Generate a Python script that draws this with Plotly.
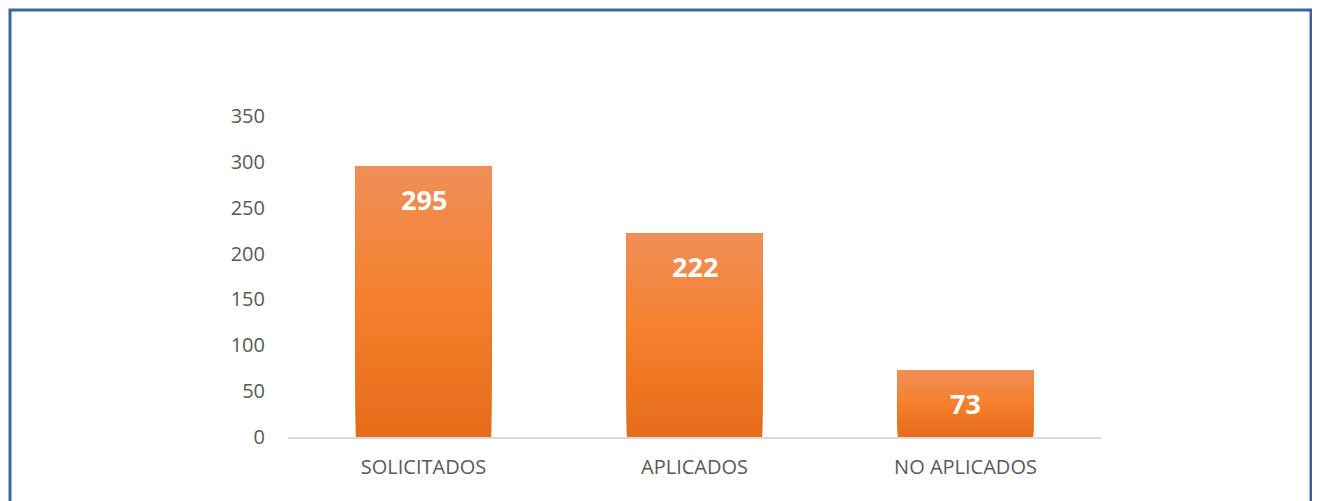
import plotly.graph_objects as go

categories = ["SOLICITADOS", "APLICADOS", "NO APLICADOS"]
values = [295, 222, 73]
y_ticks = [0, 50, 100, 150, 200, 250, 300, 350]

# gradient colours (top -> bottom)
top_rgb = (240, 142, 88)
mid_rgb = (245, 128, 44)
bot_rgb = (230, 108, 26)

def lerp(a, b, t):
    return tuple(round(a[i] + (b[i] - a[i]) * t) for i in range(3))

N = 40
fig = go.Figure()
for k in range(N):
    t = k / (N - 1)  # 0 bottom -> 1 top
    if t < 0.5:
        c = lerp(bot_rgb, mid_rgb, t / 0.5)
    else:
        c = lerp(mid_rgb, top_rgb, (t - 0.5) / 0.5)
    # each segment spans from its base up to the bar top; later ones overlay
    fig.add_trace(go.Bar(
        x=categories,
        y=[v * (N - k) / N for v in values],
        base=[v * k / N for v in values],
        marker=dict(color="rgb(%d,%d,%d)" % c, line=dict(width=0)),
        showlegend=False,
        hoverinfo="skip",
    ))

for cat, v in zip(categories, values):
    fig.add_annotation(x=cat, y=v, text="<b>%d</b>" % v, showarrow=False,
                       yanchor="middle", yshift=-33,
                       font=dict(family="Open Sans", size=27, color="white"))

# page body has an 8px margin; layout measured in page pixels minus 8
W, H = 1312, 493
L, T = 280, 108
PW, PH = 813, 321
fig.update_layout(
    width=W, height=H,
    barmode="overlay", bargap=0.5,
    paper_bgcolor="white", plot_bgcolor="white",
    margin=dict(l=L, r=W - L - PW, t=T, b=H - T - PH, autoexpand=False),
    font=dict(family="Open Sans", color="#595959", size=20),
    xaxis=dict(showline=True, linecolor="#D9D9D9", linewidth=2,
               ticks="outside", ticklen=11, tickcolor="rgba(0,0,0,0)",
               tickfont=dict(size=20, color="#595959")),
    yaxis=dict(range=[0, 350], tickvals=y_ticks, showgrid=False,
               zeroline=False, showline=False,
               ticks="outside", ticklen=18, tickcolor="rgba(0,0,0,0)",
               tickfont=dict(size=20, color="#595959")),
    shapes=[dict(type="rect", xref="paper", yref="paper",
                 x0=(2 - L) / PW, x1=(1303 - L) / PW,
                 y0=(T + PH - 520) / PH, y1=(T + PH - 2) / PH,
                 line=dict(color="#3C64A4", width=3), layer="below")],
)

fig.write_html("out.html")
